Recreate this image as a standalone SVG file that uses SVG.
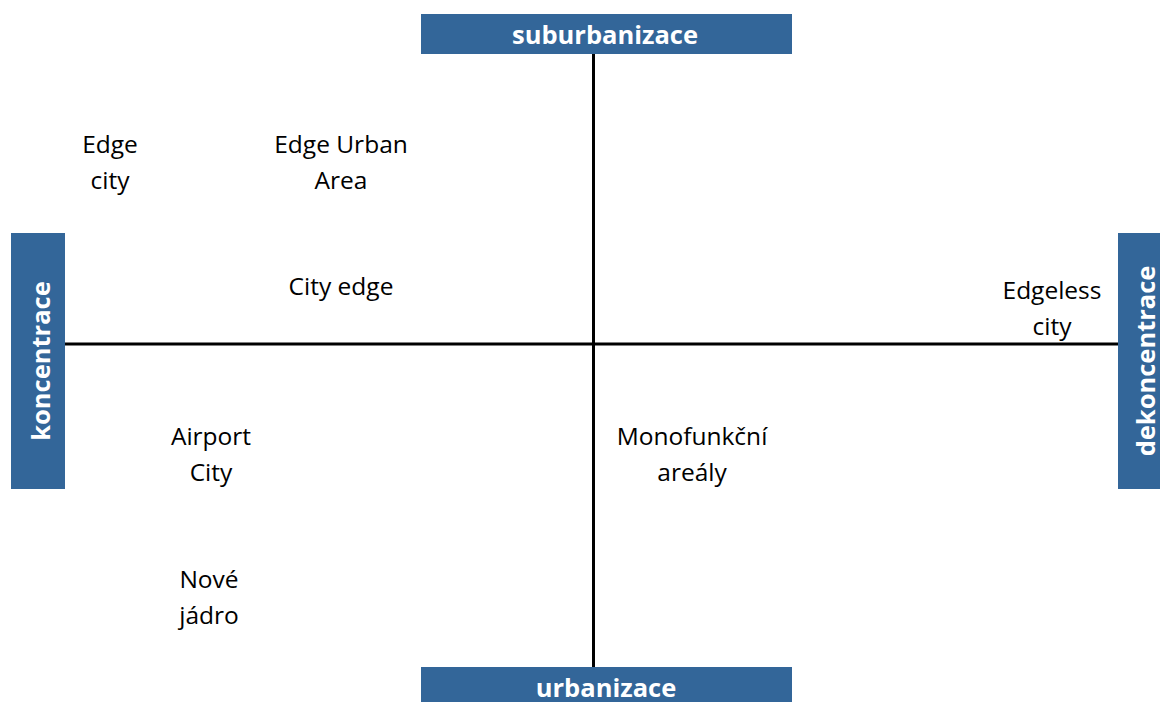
<svg xmlns="http://www.w3.org/2000/svg" width="1160" height="702" viewBox="0 0 1160 702">
<style>
.box{fill:#336699}
.bl{font-family:"Open Sans",sans-serif;font-weight:bold;font-size:25.5px;fill:#fff;text-anchor:middle}
.t{font-family:"Open Sans",sans-serif;font-size:24.5px;fill:#000;text-anchor:middle}
.ax{stroke:#000;stroke-width:3;fill:none}
</style>
<rect width="1160" height="702" fill="#fff"/>
<g id="connectors">
<line class="ax" x1="593.5" y1="53" x2="593.5" y2="668"/>
<line class="ax" x1="65" y1="344" x2="1118" y2="344"/>
</g>
<g id="suburbanizace"><rect class="box" x="421" y="14" width="371" height="40"/><text class="bl" x="605" y="44">suburbanizace</text></g>
<g id="urbanizace"><rect class="box" x="421" y="667" width="371" height="35"/><text class="bl" x="606" y="697">urbanizace</text></g>
<g id="koncentrace"><rect class="box" x="11" y="233" width="54" height="256"/><text class="bl" transform="translate(50,361) rotate(-90)">koncentrace</text></g>
<g id="dekoncentrace"><rect class="box" x="1118" y="233" width="42" height="256"/><text class="bl" transform="translate(1155,361) rotate(-90)">dekoncentrace</text></g>
<g id="edge-city"><text class="t" x="110" y="153">Edge</text><text class="t" x="110" y="189">city</text></g>
<g id="edge-urban-area"><text class="t" x="341" y="153">Edge Urban</text><text class="t" x="341" y="189">Area</text></g>
<g id="city-edge"><text class="t" x="341" y="295">City edge</text></g>
<g id="edgeless-city"><text class="t" x="1052" y="299">Edgeless</text><text class="t" x="1052" y="335">city</text></g>
<g id="airport-city"><text class="t" x="211" y="445">Airport</text><text class="t" x="211" y="481">City</text></g>
<g id="monofunkcni"><text class="t" x="692" y="445">Monofunkční</text><text class="t" x="692" y="481">areály</text></g>
<g id="nove-jadro"><text class="t" x="209" y="588">Nové</text><text class="t" x="209" y="624">jádro</text></g>
</svg>
